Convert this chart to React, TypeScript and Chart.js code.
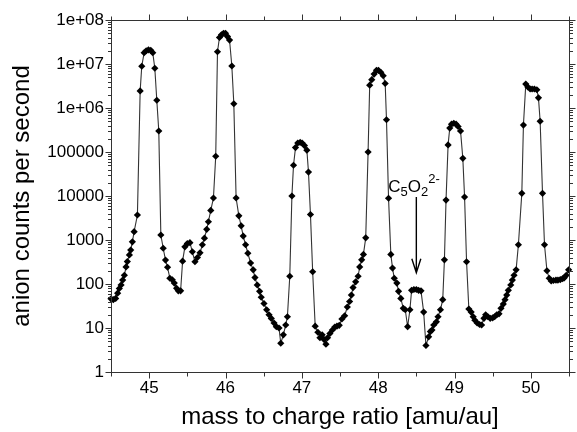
import React, { useEffect, useRef } from 'react';
import { Chart, registerables } from 'chart.js';

Chart.register(...registerables);

// ---- data ----
const massValues = [
  44.5, 44.53, 44.561, 44.587, 44.609, 44.632, 44.653, 44.675, 44.697, 44.714, 44.741, 44.758, 44.78, 44.803, 44.846,
  44.882, 44.903, 44.934, 44.961, 44.991, 45.021, 45.047, 45.074, 45.1, 45.126, 45.153,
  45.184, 45.214, 45.241, 45.271, 45.303, 45.329, 45.359, 45.382, 45.412, 45.438, 45.468, 45.5, 45.534, 45.566,
  45.6, 45.632, 45.666, 45.697, 45.724, 45.754, 45.776, 45.807, 45.842,
  45.872, 45.895, 45.921, 45.947, 45.974, 46.0, 46.026, 46.053, 46.083, 46.109, 46.139,
  46.175, 46.205, 46.232, 46.263, 46.293, 46.329, 46.363, 46.386, 46.416, 46.447, 46.468, 46.504, 46.539, 46.57,
  46.6, 46.636, 46.666, 46.701, 46.724, 46.758, 46.789, 46.811, 46.842, 46.87,
  46.891, 46.917, 46.947, 46.978, 47.004, 47.034, 47.066, 47.087, 47.113, 47.142, 47.175,
  47.21, 47.237, 47.266, 47.29, 47.316, 47.337, 47.368, 47.4, 47.432, 47.46, 47.49, 47.525, 47.561, 47.596,
  47.626, 47.649, 47.671, 47.705, 47.737, 47.758, 47.784, 47.807, 47.837,
  47.868, 47.889, 47.916, 47.947, 47.978, 48.004, 48.034, 48.066, 48.092, 48.109, 48.136,
  48.166, 48.188, 48.211, 48.245, 48.267, 48.297, 48.329, 48.355, 48.386, 48.416,
  48.438, 48.468, 48.5, 48.53, 48.561, 48.596, 48.626, 48.661, 48.684, 48.705, 48.728, 48.763, 48.784, 48.816, 48.846,
  48.868, 48.889, 48.916, 48.938, 48.961, 48.991, 49.021, 49.047, 49.079, 49.109, 49.132, 49.158,
  49.188, 49.218, 49.245, 49.267, 49.297, 49.329, 49.355, 49.386, 49.408, 49.438, 49.468, 49.5, 49.526, 49.553,
  49.583, 49.609, 49.639, 49.662, 49.684, 49.705, 49.737, 49.758, 49.78, 49.807, 49.837,
  49.882, 49.903, 49.934, 49.961, 49.991, 50.017, 50.047, 50.079, 50.1, 50.122, 50.153,
  50.179, 50.211, 50.241, 50.267, 50.297, 50.329, 50.355, 50.386, 50.416, 50.438, 50.464, 50.495,
];

const countValues = [
  46, 44, 47, 62, 79, 95, 123, 158, 245, 324, 457, 590, 910, 1550, 3700,
  2.45e6, 8.9e6, 1.8e7, 2.0e7, 2.1e7, 2.05e7, 1.8e7, 8e6, 1.5e6, 3e5, 1300,
  650, 350, 240, 135, 125, 105, 80, 70, 70, 330, 700, 830, 870, 540,
  320, 400, 510, 780, 1100, 1750, 2600, 4700, 9000,
  8e4, 1.9e7, 4e7, 4.6e7, 5e7, 5e7, 4.2e7, 3.5e7, 9e6, 1.25e6, 9000,
  3550, 2100, 1230, 780, 500, 300, 210, 140, 95, 68, 50, 36, 26, 20,
  16.5, 13, 10.7, 10, 4.5, 7, 11.7, 18, 150, 1e4,
  5e4, 1.26e5, 1.6e5, 1.65e5, 1.6e5, 1.4e5, 1.1e5, 3.5e4, 3800, 190, 11,
  8, 6, 7, 5.5, 4.3, 6, 7.5, 9, 10.5, 11, 11.5, 16, 19, 30,
  40, 56, 83, 112, 150, 245, 355, 470, 1120,
  1e5, 3.3e6, 4.4e6, 5.9e6, 7.2e6, 7.2e6, 6.5e6, 5.4e6, 3.6e6, 5.4e5, 8900,
  470, 230, 135, 105, 68, 47, 28, 26, 10.7, 26,
  72, 75, 75, 72, 70, 23, 4, 6.3, 8.3, 9, 11.7, 13.8, 18, 26, 44,
  355, 8100, 1.45e5, 3.5e5, 4.3e5, 4.5e5, 4.3e5, 3.8e5, 3e5, 7.2e4, 9500, 320,
  27, 23, 18, 15, 13, 12, 11.7, 16.6, 20, 18, 16.6, 17, 18, 20,
  21, 28, 35, 44, 56, 72, 95, 123, 158, 210, 780,
  11500, 4.1e5, 3.5e6, 3e6, 2.7e6, 2.7e6, 2.7e6, 2.6e6, 1.7e6, 5e5, 11500,
  780, 200, 135, 117, 120, 123, 123, 126, 132, 138, 158, 210,
];

const xTickValues = [45, 46, 47, 48, 49, 50];
const xHalfTickValues = [44.5, 45.5, 46.5, 47.5, 48.5, 49.5, 50.5];
const yTickValues = [1, 10, 100, 1000, 10000, 100000, 1e6, 1e7, 1e8];
const yTickLabels = ['1', '10', '100', '1000', '10000', '100000', '1e+06', '1e+07', '1e+08'];
const yMinorMultipliers = [2, 3, 4, 5, 6, 7, 8, 9];

const xTitle = 'mass to charge ratio [amu/au]';
const yTitle = 'anion counts per second';

// annotation: C5O2(2-) at m/z 48.5
const annotationMass = 48.5;
const arrowTopCount = 9500;
const arrowTipCount = 180;

const FONT = '"Liberation Sans", Arial, Helvetica, sans-serif';

const framePlugin = {
  id: 'frameTicks',
  afterDraw(chart: any) {
    const { ctx, chartArea } = chart;
    const { left, right, top, bottom } = chartArea;
    const xs = chart.scales.x;
    const ys = chart.scales.y;
    ctx.save();
    ctx.strokeStyle = '#333';
    ctx.lineWidth = 1;
    const L = Math.round(left) + 0.5;
    const R = Math.round(right) + 0.5;
    const T = Math.round(top) + 0.5;
    const B = Math.round(bottom) + 0.5;
    ctx.strokeRect(L, T, R - L, B - T);
    ctx.beginPath();
    const xTick = (v: number, len: number) => {
      const p = Math.round(xs.getPixelForValue(v)) + 0.5;
      ctx.moveTo(p, B); ctx.lineTo(p, B + len);
      ctx.moveTo(p, T); ctx.lineTo(p, T - len);
    };
    xTickValues.forEach((v) => xTick(v, 6));
    xHalfTickValues.forEach((v) => xTick(v, 4));
    const yTick = (v: number, len: number) => {
      const p = Math.round(ys.getPixelForValue(v)) + 0.5;
      ctx.moveTo(L, p); ctx.lineTo(L - len, p);
      ctx.moveTo(R, p); ctx.lineTo(R + len, p);
    };
    yTickValues.forEach((v, i) => {
      yTick(v, 6);
      if (i < yTickValues.length - 1) {
        yMinorMultipliers.forEach((m) => yTick(v * m, 3.5));
      }
    });
    ctx.stroke();

    // annotation
    const ax = xs.getPixelForValue(annotationMass);
    const topPx = ys.getPixelForValue(arrowTopCount);
    const tipPx = ys.getPixelForValue(arrowTipCount);
    ctx.strokeStyle = '#000';
    ctx.lineWidth = 1.4;
    ctx.beginPath();
    ctx.moveTo(ax, topPx);
    ctx.lineTo(ax, tipPx);
    ctx.moveTo(ax - 4.5, tipPx - 14);
    ctx.lineTo(ax, tipPx);
    ctx.lineTo(ax + 4.5, tipPx - 14);
    ctx.stroke();

    ctx.fillStyle = '#000';
    ctx.textBaseline = 'alphabetic';
    ctx.textAlign = 'left';
    const base = topPx - 5;
    let cx = ax - 28;
    const big = `17px ${FONT}`;
    const small = `13px ${FONT}`;
    const put = (t: string, font: string, dy: number) => {
      ctx.font = font;
      ctx.fillText(t, cx, base + dy);
      cx += ctx.measureText(t).width;
    };
    put('C', big, 0);
    put('5', small, 4);
    put('O', big, 0);
    put('2', small, 4);
    put('2-', small, -9);
    ctx.restore();
  },
};

export default function App() {
  const ref = useRef<HTMLCanvasElement | null>(null);
  useEffect(() => {
    if (!ref.current) return;
    const points = massValues.map((m, i) => ({ x: m, y: countValues[i] }));
    const chart = new Chart(ref.current, {
      type: 'line',
      data: {
        datasets: [
          {
            data: points,
            borderColor: '#333',
            borderWidth: 1.1,
            pointStyle: 'rectRot',
            pointRadius: 3.6,
            pointBackgroundColor: '#000',
            pointBorderColor: '#000',
            pointBorderWidth: 0,
            tension: 0,
            clip: 6,
          } as any,
        ],
      },
      options: {
        responsive: false,
        animation: false,
        events: [],
        layout: { padding: { top: 20, right: 8, left: 0, bottom: 0 } },
        plugins: { legend: { display: false }, tooltip: { enabled: false } },
        scales: {
          x: {
            type: 'linear',
            min: 44.5,
            max: 50.5,
            grid: { display: false, drawTicks: false },
            border: { display: false },
            afterBuildTicks: (s: any) => {
              s.ticks = xTickValues.map((v) => ({ value: v }));
            },
            afterFit: (s: any) => {
              s.height = 60;
            },
            ticks: {
              autoSkip: false,
              maxRotation: 0,
              padding: 6,
              color: '#000',
              font: { family: FONT, size: 17 },
              callback: (v: any) => String(v),
            },
            title: {
              display: true,
              text: xTitle,
              color: '#000',
              font: { family: FONT, size: 24 },
              padding: { top: 0, bottom: 0 },
            },
          },
          y: {
            type: 'logarithmic',
            min: 1,
            max: 1e8,
            grid: { display: false, drawTicks: false },
            border: { display: false },
            afterBuildTicks: (s: any) => {
              s.ticks = yTickValues.map((v) => ({ value: v, major: true }));
            },
            afterFit: (s: any) => {
              s.width = 111;
            },
            ticks: {
              autoSkip: false,
              padding: 7,
              color: '#000',
              font: { family: FONT, size: 17 },
              callback: (v: any) => {
                const i = yTickValues.indexOf(Number(v));
                return i >= 0 ? yTickLabels[i] : '';
              },
            },
            title: {
              display: true,
              text: yTitle,
              color: '#000',
              font: { family: FONT, size: 24 },
              padding: { top: 8, bottom: 0 },
            },
          },
        },
      },
      plugins: [framePlugin],
    });
    return () => chart.destroy();
  }, []);
  return (
    <div style={{ position: 'fixed', left: 0, top: 0, width: 577, height: 432, background: '#fff' }}>
      <canvas ref={ref} width={577} height={432} style={{ display: 'block' }} />
    </div>
  );
}
